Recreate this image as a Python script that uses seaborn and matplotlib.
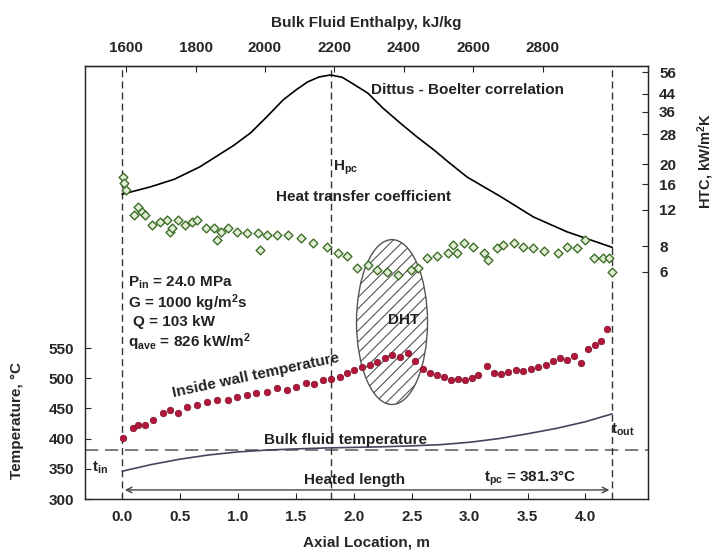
import matplotlib
matplotlib.use('Agg')
import matplotlib.pyplot as plt
import seaborn as sns
from matplotlib.patches import Ellipse
from matplotlib.ticker import NullLocator

# Inside wall temperature (red circles), axial location m / temperature C
wall_x = [0.01, 0.09, 0.14, 0.20, 0.27, 0.35, 0.41, 0.48, 0.56, 0.65, 0.73, 0.82,
          0.91, 0.99, 1.08, 1.16, 1.25, 1.34, 1.42, 1.50, 1.59, 1.66, 1.73, 1.80,
          1.88, 1.94, 2.00, 2.07, 2.14, 2.20, 2.27, 2.33, 2.40, 2.47, 2.53, 2.60,
          2.66, 2.72, 2.78, 2.84, 2.90, 2.96, 3.02, 3.07, 3.15, 3.21, 3.27, 3.33,
          3.40, 3.46, 3.53, 3.59, 3.66, 3.72, 3.78, 3.84, 3.90, 3.96, 4.02, 4.08,
          4.13, 4.19]
wall_t = [401, 418, 423, 422, 431, 442, 447, 442, 452, 456, 461, 464,
          464, 469, 472, 475, 477, 484, 481, 486, 492, 490, 497, 499,
          502, 508, 513, 518, 522, 527, 533, 538, 535, 541, 528, 515,
          509, 505, 502, 497, 499, 497, 500, 505, 520, 509, 507, 510,
          513, 512, 516, 518, 522, 528, 533, 530, 537, 526, 548, 555,
          562, 582]

# Measured heat transfer coefficient (green diamonds), kW/m2K
htc_x = [0.01, 0.02, 0.03, 0.10, 0.14, 0.17, 0.20, 0.26, 0.33, 0.39, 0.41, 0.43,
         0.48, 0.54, 0.60, 0.65, 0.72, 0.79, 0.82, 0.85, 0.91, 0.99, 1.08, 1.17,
         1.19, 1.25, 1.34, 1.43, 1.54, 1.65, 1.77, 1.86, 1.94, 2.03, 2.12, 2.20,
         2.29, 2.38, 2.49, 2.55, 2.63, 2.72, 2.81, 2.86, 2.89, 2.95, 3.03, 3.12,
         3.16, 3.24, 3.29, 3.38, 3.46, 3.55, 3.64, 3.76, 3.84, 3.93, 4.00, 4.07,
         4.15, 4.20, 4.23]
htc_v = [17.3, 16.2, 15.0, 11.4, 12.4, 11.7, 11.4, 10.1, 10.5, 10.7, 9.4, 9.8,
         10.7, 10.1, 10.5, 10.7, 9.8, 9.8, 8.6, 9.4, 9.8, 9.4, 9.3, 9.3,
         7.7, 9.1, 9.1, 9.1, 8.8, 8.3, 7.9, 7.4, 7.2, 6.3, 6.5, 6.1,
         6.0, 5.8, 6.1, 6.3, 7.0, 7.2, 7.4, 8.1, 7.4, 8.3, 7.9, 7.4,
         6.85, 7.8, 8.1, 8.3, 7.9, 7.8, 7.6, 7.4, 7.9, 7.8, 8.6, 7.0,
         7.0, 7.0, 6.0]

# Dittus - Boelter correlation, kW/m2K
db_x = [0.0, 0.24, 0.45, 0.67, 0.96, 1.11, 1.25, 1.39, 1.50, 1.60, 1.70, 1.80,
        1.90, 1.97, 2.12, 2.25, 2.40, 2.55, 2.69, 2.83, 2.98, 3.27, 3.55, 3.84,
        4.23]
db_v = [14.3, 15.5, 16.9, 19.4, 24.6, 28.4, 34.0, 41.0, 45.8, 50.1, 53.0, 54.2,
        52.8, 50.0, 44.3, 37.5, 31.7, 27.0, 23.5, 20.2, 17.3, 13.9, 11.1, 9.4,
        7.9]

# Bulk fluid temperature, C
bulk_x = [0.0, 0.25, 0.5, 0.75, 1.0, 1.25, 1.5, 1.75, 2.0, 2.25, 2.5, 2.75,
          3.0, 3.25, 3.5, 3.75, 4.0, 4.23]
bulk_t = [346, 357, 366, 373, 378, 381, 383, 384.5, 385.5, 386.5, 388, 390,
          394, 400, 408, 417, 428, 441]

axial_ticks = [0.0, 0.5, 1.0, 1.5, 2.0, 2.5, 3.0, 3.5, 4.0]
temp_ticks = [300, 350, 400, 450, 500, 550]
htc_ticks = [6, 8, 12, 16, 20, 28, 36, 44, 56]
enthalpy_ticks = [1600, 1800, 2000, 2200, 2400, 2600, 2800]

t_pc = 381.3
h_pc_x = 1.80
heated_end = 4.23

sns.set_style('ticks')
plt.rcParams['font.family'] = ['Liberation Sans', 'DejaVu Sans']
plt.rcParams['font.weight'] = 'bold'
plt.rcParams['mathtext.default'] = 'regular'
plt.rcParams['hatch.linewidth'] = 0.8
plt.rcParams['hatch.color'] = '#555555'

fig = plt.figure(figsize=(7.17, 5.57), dpi=100)
ax = fig.add_axes([0.1186, 0.1041, 0.7852, 0.7774])
ax2 = ax.twinx()

# temperature side
ax.axhline(t_pc, color='#666666', ls=(0, (8, 4)), lw=1.2, zorder=1)
for xv in [0.0, h_pc_x, heated_end]:
    ax.axvline(xv, color='#333333', ls=(0, (5, 3)), lw=1.0, zorder=1)

dht = Ellipse((2.33, 593), 0.613, 273, facecolor='none', edgecolor='#555555',
              hatch='///', lw=1.0, zorder=2)
ax.add_patch(dht)

sns.lineplot(x=bulk_x, y=bulk_t, ax=ax, color='#45455e', lw=1.2, zorder=3)
sns.scatterplot(x=wall_x, y=wall_t, ax=ax, marker='o', s=22, color='#b3173b',
                edgecolor='#7a0f28', linewidth=0.5, zorder=4)

ax.annotate('', xy=(0.0, 315), xytext=(heated_end, 315),
            arrowprops=dict(arrowstyle='<->', color='#444444', lw=1.0))

ax.set_xlim(-0.32, 4.54)
ax.set_ylim(300, 1017)
ax.set_xticks(axial_ticks)
ax.set_xticklabels([f'{v:.1f}' for v in axial_ticks])
ax.set_yticks(temp_ticks)
ax.set_xlabel('Axial Location, m', fontsize=11, fontweight='bold', labelpad=8)
ax.set_ylabel('Temperature, °C', fontsize=11, fontweight='bold')
ax.yaxis.set_label_coords(-0.108, 0.182)
ax.tick_params(direction='in', labelsize=11, pad=8, length=4)

# HTC side
ax2.set_yscale('log')
sns.lineplot(x=db_x, y=db_v, ax=ax2, color='black', lw=1.2, zorder=3)
sns.scatterplot(x=htc_x, y=htc_v, ax=ax2, marker='D', s=20, color='#e2efd6',
                edgecolor='#3f6e2a', linewidth=1.0, zorder=4)
ax2.set_ylim(0.475, 59.9)
ax2.set_yticks(htc_ticks)
ax2.set_yticklabels([str(v) for v in htc_ticks])
ax2.yaxis.set_minor_locator(NullLocator())
ax2.set_ylabel('HTC, kW/m$^2$K', fontsize=10.5, fontweight='bold')
ax2.yaxis.set_label_coords(1.085, 0.78)
ax2.tick_params(direction='in', labelsize=11, pad=8, length=4)


def axial_to_h(x):
    return 1600 + (x - 0.035) * 333.8


def h_to_axial(h):
    return (h - 1600) / 333.8 + 0.035


sec = ax.secondary_xaxis('top', functions=(axial_to_h, h_to_axial))
sec.set_xticks(enthalpy_ticks)
sec.tick_params(direction='in', labelsize=11, pad=8, length=4)
sec.set_xlabel('Bulk Fluid Enthalpy, kJ/kg', fontsize=11, fontweight='bold', labelpad=10)

for sp in ax.spines.values():
    sp.set_linewidth(1.0)

# annotations
txt = dict(fontsize=11, fontweight='bold', color='#222222')
ax.text(2.98, 977, 'Dittus - Boelter correlation', ha='center', va='center', **txt)
ax.text(1.82, 848, 'H$_{pc}$', ha='left', va='center', **txt)
ax.text(2.08, 800, 'Heat transfer coefficient', ha='center', va='center', **txt)
ax.text(0.05, 658, 'P$_{in}$ = 24.0 MPa', ha='left', va='center', **txt)
ax.text(0.05, 625, 'G = 1000 kg/m$^2$s', ha='left', va='center', **txt)
ax.text(0.09, 593, 'Q = 103 kW', ha='left', va='center', **txt)
ax.text(0.05, 560, 'q$_{ave}$ = 826 kW/m$^2$', ha='left', va='center', **txt)
ax.text(1.15, 504, 'Inside wall temperature', ha='center', va='center',
        rotation=12, **txt)
ax.text(1.93, 397, 'Bulk fluid temperature', ha='center', va='center', **txt)
ax.text(2.01, 331, 'Heated length', ha='center', va='center', **txt)
ax.text(3.52, 335, 't$_{pc}$ = 381.3°C', ha='center', va='center', **txt)
ax.text(-0.19, 351, 't$_{in}$', ha='center', va='center', **txt)
ax.text(4.32, 414, 't$_{out}$', ha='center', va='center', **txt)
ax.text(2.43, 596, 'DHT', ha='center', va='center', **txt)

fig.savefig('out.png', dpi=100)
